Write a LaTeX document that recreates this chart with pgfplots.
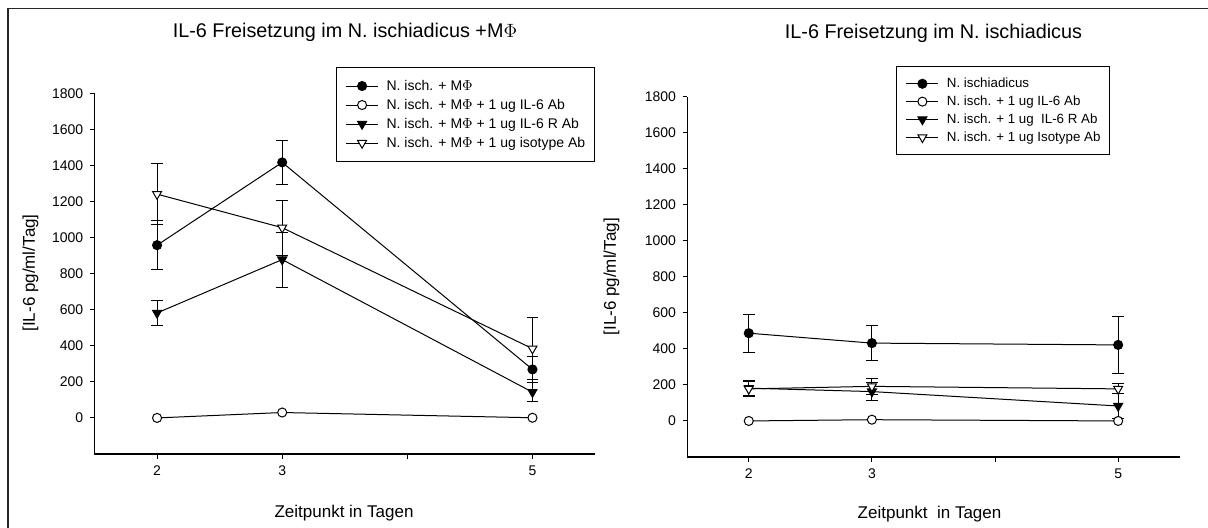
\documentclass[border=0pt]{standalone}
\usepackage{pgfplots}
\pgfplotsset{compat=1.18}
\usepackage{fontspec}
\setmainfont{Liberation Sans}
\pgfplotsset{
  ilstyle/.style={
    scale only axis,
    xmin=1.5, xmax=5.5, ymin=-200, ymax=1800,
    axis x line*=bottom, axis y line*=left,
    xtick={2,3,4,5}, xticklabels={2,3,{},5},
    ytick={0,200,...,1800},
    tick align=outside, major tick length=3.4pt,
    tick style={black, line width=0.8pt},
    axis line style={black, line width=0.8pt},
    /pgf/number format/assume math mode=true,
    /pgf/number format/1000 sep={},
    scaled y ticks=false,
    ticklabel style={font=\fontsize{10.5}{12}\selectfont},
    yticklabel style={xshift=-1.5pt},
    xticklabel style={yshift=-2pt},
    label style={font=\fontsize{12.75}{15}\selectfont},
    clip=false,
    legend cell align=left,
    legend image code/.code={\draw[mark repeat=2,mark phase=2] plot coordinates {(0pt,0pt)(12pt,0pt)(24pt,0pt)};},
    error bars/error bar style={line width=0.75pt, black},
    error bars/error mark options={rotate=90, mark size=4.4pt, line width=0.75pt, black},
  },
  sA/.style={black, line width=0.75pt, mark=*, mark size=3.4pt, mark options={fill=black, draw=black, solid}},
  sB/.style={black, line width=0.75pt, mark=*, mark size=3.4pt, mark options={fill=white, draw=black, solid}},
  sC/.style={black, line width=0.75pt, mark=triangle*, mark size=3.9pt, mark options={fill=black, draw=black, rotate=180, solid}},
  sD/.style={black, line width=0.75pt, mark=triangle*, mark size=3.9pt, mark options={fill=white, draw=black, rotate=180, solid}},
}
\begin{document}
\begin{tikzpicture}
\path[use as bounding box] (0pt,0pt) rectangle (906pt,396pt);
\draw[line width=1.3pt, black!85] (6pt,0pt) -- (6pt,389.6pt) -- (906pt,389.6pt);

% Left panel
\begin{axis}[ilstyle,
  at={(70.875pt,55.5pt)}, anchor=south west,
  width=375.4pt, height=270.5pt,
  xlabel={Zeitpunkt in Tagen},
  xlabel style={at={(axis description cs:0.4985,-0.165)}, anchor=center},
  ylabel={[IL-6 pg/ml/Tag]},
  ylabel style={at={(axis description cs:-0.1277,0.502)}, anchor=center},
  legend style={draw=black, line width=0.75pt, font=\fontsize{10.5}{12}\selectfont,
    at={(axis description cs:1,1.072)}, anchor=north east,
    inner xsep=7pt, inner ysep=6.5pt, row sep=0pt, column sep=6pt,
    nodes={inner sep=0pt, text height=10.25pt, text depth=4pt}},
]
\addplot[sA, error bars/.cd, y dir=both, y explicit] coordinates {(2,958) +- (0,136) (3,1417) +- (0,123) (5,269) +- (0,70)};
\addlegendentry{N. isch. + M\(\Phi\)}
\addplot[sB] coordinates {(2,0) (3,30) (5,1)};
\addlegendentry{N. isch. + M\(\Phi\) + 1 ug IL-6 Ab}
\addplot[sC, error bars/.cd, y dir=both, y explicit] coordinates {(2,582) +- (0,70) (3,878) +- (0,153) (5,143) +- (0,51)};
\addlegendentry{N. isch. + M\(\Phi\) + 1 ug IL-6 R Ab}
\addplot[sD, error bars/.cd, y dir=both, y explicit] coordinates {(2,1241) +- (0,170) (3,1055) +- (0,153) (5,384) +- (0,173)};
\addlegendentry{N. isch. + M\(\Phi\) + 1 ug isotype Ab}
\end{axis}

% Right panel
\begin{axis}[ilstyle,
  at={(515.4pt,53.25pt)}, anchor=south west,
  width=369.4pt, height=270.3pt,
  xlabel={Zeitpunkt\ \ in Tagen},
  xlabel style={at={(axis description cs:0.492,-0.1595)}, anchor=center},
  ylabel={[IL-6 pg/ml/Tag]},
  ylabel style={at={(axis description cs:-0.1535,0.5)}, anchor=center},
  legend style={draw=black, line width=0.75pt, font=\fontsize{10}{12}\selectfont,
    at={(axis description cs:0.859,1.084)}, anchor=north east,
    inner xsep=7pt, inner ysep=6pt, row sep=0pt, column sep=6pt,
    nodes={inner sep=0pt, text height=9.6pt, text depth=3.8pt}},
]
\addplot[sA, error bars/.cd, y dir=both, y explicit] coordinates {(2,487) +- (0,105) (3,432) +- (0,96) (5,422) +- (0,160)};
\addlegendentry{N. ischiadicus}
\addplot[sB] coordinates {(2,0) (3,7) (5,0)};
\addlegendentry{N. isch. + 1 ug IL-6 Ab}
\addplot[sC, error bars/.cd, y dir=both, y explicit] coordinates {(2,182) +- (0,41) (3,163) +- (0,48) (5,83) +- (0,67)};
\addlegendentry{N. isch. + 1 ug\ \ IL-6 R Ab}
\addplot[sD, error bars/.cd, y dir=both, y explicit] coordinates {(2,178) +- (0,42) (3,192) +- (0,45) (5,178) +- (0,28)};
\addlegendentry{N. isch. + 1 ug Isotype Ab}
\end{axis}

\node[font=\fontsize{14.85}{17}\selectfont, anchor=center, inner sep=0pt] at (258.75pt,372pt) {IL-6 Freisetzung im N. ischiadicus +M\(\Phi\)};
\node[font=\fontsize{14.85}{17}\selectfont, anchor=center, inner sep=0pt] at (700.1pt,370.7pt) {IL-6 Freisetzung im N. ischiadicus};
\end{tikzpicture}
\end{document}
